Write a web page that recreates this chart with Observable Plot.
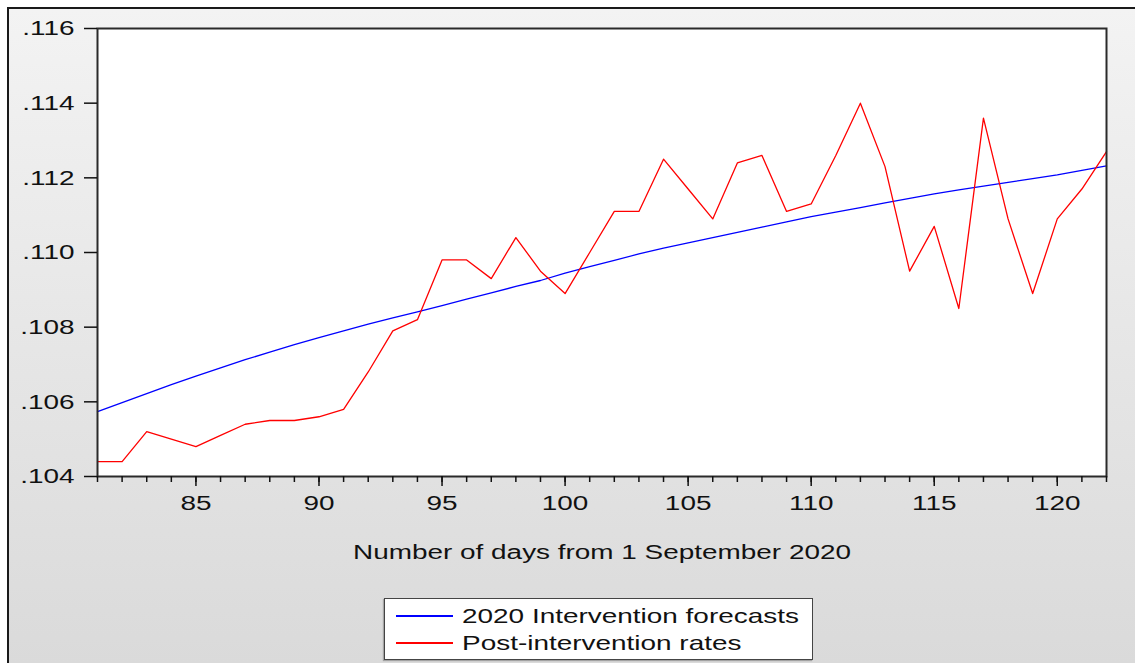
<!DOCTYPE html>
<html>
<head>
<meta charset="utf-8">
<script src="https://cdn.jsdelivr.net/npm/d3@7"></script>
<script src="https://cdn.jsdelivr.net/npm/@observablehq/plot@0.6"></script>
<style>
  html, body { margin: 0; padding: 0; background: #ffffff; }
  #page { position: relative; width: 1135px; height: 663px; overflow: hidden; font-family: "Liberation Sans", Arial, sans-serif; }
  #panel {
    position: absolute; left: 7px; top: 7px; right: 0; bottom: 0;
    border-left: 2px solid #1a1a1a; border-top: 2px solid #1a1a1a;
    background: linear-gradient(#f3f3f3, #dadada);
  }
  #chart { position: absolute; left: 0; top: 0; }
  #legend {
    position: absolute; left: 384px; top: 598px; width: 427px; height: 60px;
    background: #ffffff; border: 1.5px solid #444;
    box-shadow: -1px 1px 1px rgba(0,0,0,0.25);
  }
  .row { position: absolute; left: 11px; height: 24px; display: flex; align-items: center; }
  .swatch { width: 57px; height: 1.4px; margin-right: 9px; }
  .row span {
    font-size: 21px; color: #111; white-space: nowrap;
    display: inline-block; transform: scaleX(1.33); transform-origin: left center;
  }
</style>
</head>
<body>
<div id="page">
  <div id="panel"></div>
  <div id="chart"></div>
  <div id="legend"></div>
</div>
<script>
// Day index counted from 1 September 2020
const days = [81, 82, 83, 84, 85, 86, 87, 88, 89, 90, 91, 92, 93, 94, 95, 96, 97, 98, 99, 100, 101,
  102, 103, 104, 105, 106, 107, 108, 109, 110, 111, 112, 113, 114, 115, 116, 117, 118, 119, 120, 121, 122];

// Forecast path from the 2020 intervention model
const forecasts = [0.10574, 0.10598, 0.10622, 0.10646, 0.10669, 0.10691, 0.10713, 0.10733, 0.10753,
  0.10772, 0.10790, 0.10808, 0.10825, 0.10841, 0.10858, 0.10875, 0.10892, 0.10909, 0.10925, 0.10945,
  0.10962, 0.10979, 0.10996, 0.11012, 0.11026, 0.11040, 0.11054, 0.11068, 0.11082, 0.11096, 0.11108,
  0.11120, 0.11133, 0.11145, 0.11157, 0.11168, 0.11178, 0.11188, 0.11198, 0.11208, 0.11220, 0.11232];

// Observed rates after the intervention
const rates = [0.1044, 0.1044, 0.1052, 0.1050, 0.1048, 0.1051, 0.1054, 0.1055, 0.1055, 0.1056,
  0.1058, 0.1068, 0.1079, 0.1082, 0.1098, 0.1098, 0.1093, 0.1104, 0.1095, 0.1089, 0.1100,
  0.1111, 0.1111, 0.1125, 0.1117, 0.1109, 0.1124, 0.1126, 0.1111, 0.1113, 0.1126, 0.1140,
  0.1123, 0.1095, 0.1107, 0.1085, 0.1136, 0.1109, 0.1089, 0.1109, 0.1117, 0.1127];

const xMajorTicks = [85, 90, 95, 100, 105, 110, 115, 120];
const yTicks = [0.104, 0.106, 0.108, 0.110, 0.112, 0.114, 0.116];
const xLabel = "Number of days from 1 September 2020";

const series = [
  {name: "2020 Intervention forecasts", color: "#0000ff", values: forecasts},
  {name: "Post-intervention rates", color: "#ff0000", values: rates}
];

const rows = series.flatMap(s => days.map((d, i) => ({day: d, value: s.values[i], series: s.name})));

const chart = Plot.plot({
  width: 1135,
  height: 575,
  marginLeft: 97,
  marginRight: 29,
  marginTop: 28,
  marginBottom: 99,
  style: {background: "transparent", fontFamily: "'Liberation Sans', Arial, sans-serif", color: "#111"},
  x: {domain: [81, 122]},
  y: {domain: [0.104, 0.116]},
  color: {domain: series.map(s => s.name), range: series.map(s => s.color)},
  marks: [
    Plot.frame({fill: "white"}),
    Plot.line(rows, {x: "day", y: "value", z: "series", stroke: "series", strokeWidth: 1.3}),
    Plot.frame({stroke: "#2a2a2a", strokeWidth: 2}),
    Plot.axisX({ticks: days, tickSize: 6, tickFormat: () => "", label: null, strokeWidth: 1.5}),
    Plot.axisX({ticks: xMajorTicks, tickSize: 10, tickPadding: 9, fontSize: 21, label: null, strokeWidth: 1.5}),
    Plot.axisY({ticks: yTicks, tickSize: 13, tickPadding: 10, fontSize: 21, label: null, strokeWidth: 1.5,
      tickFormat: d => d.toFixed(3).replace(/^0/, "")}),
    Plot.text([xLabel], {frameAnchor: "bottom", dy: 82, fontSize: 21, fill: "#111", text: d => d})
  ]
});

// The lettering is set wide: stretch each label horizontally about its anchor
chart.querySelectorAll("text").forEach(t => {
  const tr = t.getAttribute("transform") || "";
  t.setAttribute("transform", (tr + " scale(1.33,1)").trim());
});
document.getElementById("chart").appendChild(chart);

// Legend box below the axis title
const legend = document.getElementById("legend");
series.forEach((s, i) => {
  const row = document.createElement("div");
  row.className = "row";
  row.style.top = (5 + i * 27) + "px";
  const sw = document.createElement("div");
  sw.className = "swatch";
  sw.style.background = s.color;
  const label = document.createElement("span");
  label.textContent = s.name;
  row.appendChild(sw);
  row.appendChild(label);
  legend.appendChild(row);
});
</script>
</body>
</html>
